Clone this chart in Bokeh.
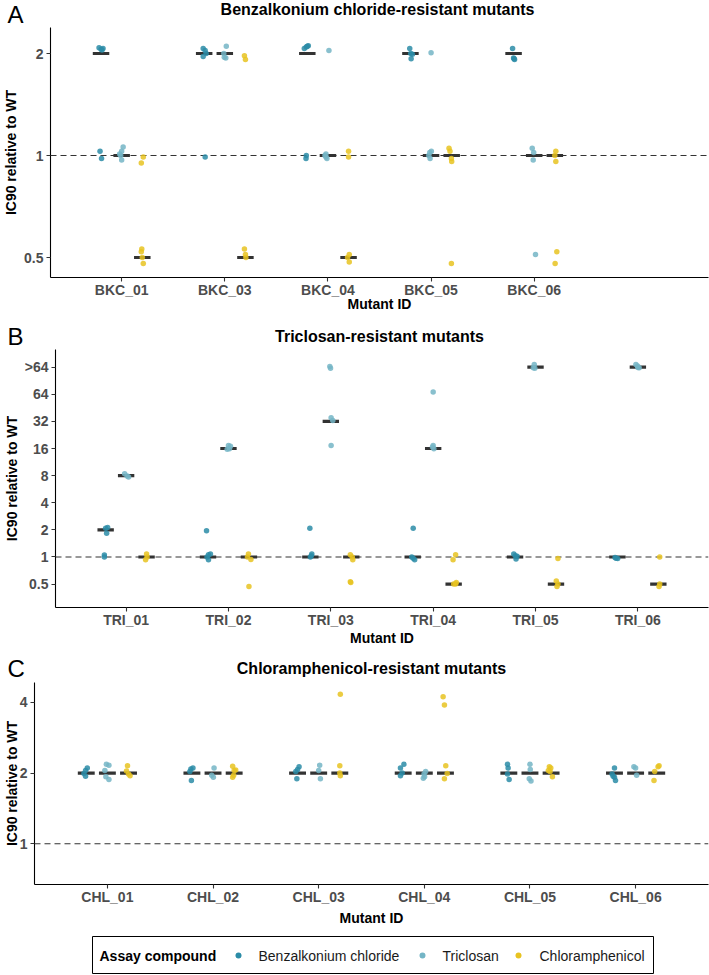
from bokeh.plotting import figure
from bokeh.models import Range1d, FixedTicker, Span, PrintfTickFormatter
from bokeh.layouts import column
from bokeh.embed import file_html
from bokeh.resources import INLINE
from bokeh.core.properties import value

FONT = "Liberation Sans"
compounds = ["Benzalkonium chloride", "Triclosan", "Chloramphenicol"]
colors = ["#2B8CA7", "#74B5C6", "#E8C321"]

# ---------------- Panel A: Benzalkonium chloride-resistant mutants -------------
a_mutants = ["BKC_01", "BKC_03", "BKC_04", "BKC_05", "BKC_06"]
a_bkc_vals = [[2.08, 2.06, 2.07, 2.05, 1.03, 0.98],
              [2.07, 2.04, 2.00, 1.96, 0.99],
              [2.07, 2.09, 2.11, 2.10, 1.00, 0.98],
              [2.07, 2.00, 1.99, 1.93],
              [2.07, 1.94, 1.92, 1.93]]
a_bkc_jit = [[-2, 0, 2, 1, -1, 0.5], [-1, 1, 2, -1, 1], [-3, -1, 1, 0, -1, -1.3],
             [-0.7, 0.3, 2, 0.7], [-1, 0, 1, 0.5]]
a_tcs_vals = [[1.06, 1.03, 1.00, 0.97, 1.01],
              [2.10, 2.00, 1.95, 1.94],
              [2.04, 1.01, 1.00, 0.98, 0.99],
              [2.01, 1.03, 1.02, 0.98, 1.00],
              [1.05, 1.02, 0.97, 0.51]]
a_tcs_jit = [[1.5, 0, -1, 0, -2], [1.5, -1, -0.5, 1], [1, -2, -3, -1, -2],
             [0, 0.3, -1.3, -1, -2.3], [-2, -0.5, -1, 1.3]]
a_chl_vals = [[0.99, 0.95, 0.53, 0.52, 0.48, 0.50],
              [1.97, 1.92, 0.53, 0.51, 0.50],
              [1.03, 0.99, 0.51, 0.50, 0.485],
              [1.05, 1.03, 0.98, 0.96, 0.48],
              [1.03, 0.96, 0.52, 0.48, 1.00]]
a_chl_jit = [[1, -1, -0.5, -1, 1, 0], [-1, 0, -1, 0, 0.5], [0, 0, 0.7, -1, 0.7],
             [-2.7, -1.7, -0.3, 0, -0.3], [1, 1, 2, 0.3, 0]]
a_bkc_median = [2, 2, 2, 2, 2]
a_tcs_median = [1, 2, 1, 1, 1]
a_chl_median = [0.5, 0.5, 0.5, 1, 1]
a_yticks = [0.5, 1, 2]
a_ylabels = ["0.5", "1", "2"]

# ---------------- Panel B: Triclosan-resistant mutants -------------------------
b_mutants = ["TRI_01", "TRI_02", "TRI_03", "TRI_04", "TRI_05", "TRI_06"]
b_bkc_vals = [[2.09, 2.12, 1.84, 1.05, 1.00],
              [1.95, 1.06, 1.08, 0.93, 1.00],
              [2.09, 1.08, 1.00, 1.03],
              [2.09, 0.97, 0.93, 1.00],
              [1.08, 1.03, 0.95, 1.02],
              [0.97, 0.96, 0.99]]
b_bkc_jit = [[0, 2, 1, -1.3, -1.3], [-1.5, 0.5, 2.5, 0.5, -1], [-0.5, 1.5, 0, 1],
             [0.5, 0.5, 2, -1], [-1.3, 0.3, 1, 2], [-1.4, 0.3, -2.4]]
b_tcs_vals = [[8.4, 7.9, 7.7],
              [17.3, 17.0, 15.7, 15.9],
              [130, 124, 35, 32.7, 17.3],
              [68, 17.3, 15.9, 16.6],
              [137, 124, 126],
              [137, 132, 126, 127]]
b_tcs_jit = [[-1.5, 1, 2.5], [0, 2, -1.3, 1], [-1, -0.3, 0.3, 2, 0.3],
             [0, 0, 0.7, -0.7], [-1.3, -0.7, -2.3], [-2, -0.3, 1.3, 0]]
b_chl_vals = [[1.08, 0.93, 1.00],
              [1.08, 0.94, 1.00, 0.47],
              [1.06, 0.93, 1.00, 0.53, 0.52],
              [1.06, 0.93, 0.52, 0.50, 0.50],
              [0.96, 0.54, 0.50, 0.47],
              [1.00, 0.47, 0.50]]
b_chl_jit = [[0, -1, 0.5], [-0.5, 2, -1.5, 0], [-1, 1.5, 1, -1, -0.5],
             [2, -0.6, 2.7, 2, 0], [2, 0.3, 2, 1], [1.4, 0.7, 1.4]]
b_bkc_median = [2, 1, 1, 1, 1, 1]
b_tcs_median = [8, 16, 32, 16, 128, 128]
b_chl_median = [1, 1, 1, 0.5, 0.5, 0.5]
b_yticks = [0.5, 1, 2, 4, 8, 16, 32, 64, 128]
b_ylabels = ["0.5", "1", "2", "4", "8", "16", "32", "64", ">64"]

# ---------------- Panel C: Chloramphenicol-resistant mutants -------------------
c_mutants = ["CHL_01", "CHL_02", "CHL_03", "CHL_04", "CHL_05", "CHL_06"]
c_bkc_vals = [[2.10, 2.05, 1.99, 1.94],
              [2.08, 2.10, 2.03, 1.86],
              [2.13, 2.07, 2.03, 1.89],
              [2.18, 2.10, 2.00, 1.95],
              [2.18, 2.10, 1.98, 1.88],
              [2.10, 1.98, 1.92, 1.86, 1.94]]
c_bkc_jit = [[1, -0.7, -2.3, -0.7], [-1, 1, -2, -0.5], [1.5, 0, -1.7, -0.7],
             [0.7, -2.7, -1, -2.7], [-1.3, -0.7, -1.3, 0.3], [0, -2.3, 0, 1, -1.3]]
c_tcs_vals = [[2.18, 2.16, 2.05, 1.93, 1.88],
              [2.10, 1.96, 1.92],
              [2.16, 2.05, 1.89],
              [2.03, 1.98, 1.90, 1.93],
              [2.18, 2.07, 1.89, 1.85],
              [2.13, 2.10, 1.96]]
c_tcs_jit = [[-1, 1.5, -2.5, -1.5, 1.5], [1, -1.3, 0.3], [1, 0, 1.7],
             [1.3, -0.3, -1, 0.3], [0, 0.3, -0.7, 1], [-1.7, 0, 1]]
c_chl_vals = [[2.15, 2.04, 1.98, 1.95],
              [2.14, 2.05, 2.06, 1.92, 1.96],
              [4.33, 2.15, 1.95, 2.00],
              [4.23, 3.90, 2.15, 1.89, 1.99],
              [2.13, 2.10, 2.05, 2.03, 1.93],
              [2.13, 2.15, 2.03, 1.86]]
c_chl_jit = [[-1, -2, 0, 1.5], [-1.5, 0, 1.5, -1.5, -0.5], [0.5, 0, 0.5, 0],
             [-2.3, -1, 0.3, -1, 1.7], [-1.7, -0.3, -2.7, -1, 1.3], [1.3, 2.3, -2, -2.7]]
c_bkc_median = [2, 2, 2, 2, 2, 2]
c_tcs_median = [2, 2, 2, 2, 2, 2]
c_chl_median = [2, 2, 2, 2, 2, 2]
c_yticks = [1, 2, 4]
c_ylabels = ["1", "2", "4"]

DODGE = [-0.2, 0.0, 0.2]
HALF = 0.08
STEP_PX = 104.0
W = 709


def no_align(p):
    if "frame_align" in p.properties():
        p.frame_align = False


def make_header(letter, title, height, letter_y, title_x, title_y):
    h = figure(width=W, height=height, output_backend="svg", toolbar_location=None,
               x_range=Range1d(0, W), y_range=Range1d(height, 0), min_border=0,
               x_axis_location=None, y_axis_location=None)
    no_align(h)
    h.xgrid.visible = False
    h.ygrid.visible = False
    h.outline_line_color = None
    h.text(x=[7], y=[letter_y], text=[letter], text_font=value(FONT),
           text_font_size="24px", text_baseline="middle", text_color="black")
    h.text(x=[title_x], y=[title_y], text=[title], text_font=value(FONT),
           text_font_size="16px", text_font_style="bold", text_align="center",
           text_baseline="middle", text_color="black")
    return h


def make_panel(mutants, vals, jits, medians, yticks, ylabels, ylo, yhi, height,
               bottom, xlab_standoff, ylab_standoff):
    p = figure(width=W, height=height, output_backend="svg", toolbar_location=None,
               y_axis_type="log", x_range=Range1d(0.31, 6.69),
               y_range=Range1d(2 ** ylo, 2 ** yhi),
               min_border_right=1, min_border_top=0, min_border_left=0,
               min_border_bottom=bottom)
    no_align(p)
    p.xgrid.visible = False
    p.ygrid.visible = False
    p.outline_line_color = None

    p.add_layout(Span(location=1, dimension="width", line_color="#333333",
                      line_width=1.2, line_dash="6 4", level="underlay"))

    for ci in range(3):
        xc = [i + 1 + DODGE[ci] for i in range(len(mutants))]
        p.segment(x0=[x - HALF for x in xc], x1=[x + HALF for x in xc],
                  y0=medians[ci], y1=medians[ci], line_width=3.2,
                  line_color="#333333", line_cap="butt")
    for ci in range(3):
        xs, ys = [], []
        for i, (vs, js) in enumerate(zip(vals[ci], jits[ci])):
            for v, j in zip(vs, js):
                xs.append(i + 1 + DODGE[ci] + j / STEP_PX)
                ys.append(v)
        p.scatter(xs, ys, size=5.5, fill_color=colors[ci], line_color=None,
                  fill_alpha=0.85)

    p.xaxis.ticker = FixedTicker(ticks=list(range(1, len(mutants) + 1)))
    p.xaxis.major_label_overrides = {i + 1: m for i, m in enumerate(mutants)}
    p.yaxis.ticker = FixedTicker(ticks=yticks)
    p.yaxis.formatter = PrintfTickFormatter(format="%g")
    p.yaxis.major_label_overrides = {t: l for t, l in zip(yticks, ylabels)}
    p.xaxis.axis_label = "Mutant ID"
    p.yaxis.axis_label = "IC90 relative to WT"
    for ax in (p.xaxis[0], p.yaxis[0]):
        ax.axis_line_color = "black"
        ax.axis_line_width = 1.1
        ax.major_tick_line_color = "#333333"
        ax.major_tick_line_width = 1.1
        ax.major_tick_in = 0
        ax.major_tick_out = 4
        ax.minor_tick_line_color = None
        ax.major_label_text_font = FONT
        ax.major_label_text_font_size = "14px"
        ax.major_label_text_font_style = "bold"
        ax.major_label_text_color = "#4D4D4D"
        ax.axis_label_text_font = FONT
        ax.axis_label_text_font_size = "14px"
        ax.axis_label_text_font_style = "bold"
        ax.axis_label_text_color = "black"
    p.xaxis.major_label_standoff = 0
    p.xaxis.axis_label_standoff = xlab_standoff
    p.yaxis.major_label_standoff = 3
    p.yaxis.axis_label_standoff = ylab_standoff
    p.yaxis.major_label_orientation = "horizontal"
    return p


hA = make_header("A", "Benzalkonium chloride-resistant mutants", 27, 13.5, 377, 9)
pA = make_panel(a_mutants, [a_bkc_vals, a_tcs_vals, a_chl_vals],
                [a_bkc_jit, a_tcs_jit, a_chl_jit],
                [a_bkc_median, a_tcs_median, a_chl_median],
                a_yticks, a_ylabels, -1.196, 1.255, 289, 39, -5, 2)
hB = make_header("B", "Triclosan-resistant mutants", 33, 19.5, 379, 20)
pB = make_panel(b_mutants, [b_bkc_vals, b_tcs_vals, b_chl_vals],
                [b_bkc_jit, b_tcs_jit, b_chl_jit],
                [b_bkc_median, b_tcs_median, b_chl_median],
                b_yticks, b_ylabels, -1.862, 7.65, 299, 40, -1, 2)
hC = make_header("C", "Chloramphenicol-resistant mutants", 34, 19.5, 371, 19.5)
pC = make_panel(c_mutants, [c_bkc_vals, c_tcs_vals, c_chl_vals],
                [c_bkc_jit, c_tcs_jit, c_chl_jit],
                [c_bkc_median, c_tcs_median, c_chl_median],
                c_yticks, c_ylabels, -0.577, 2.282, 246, 43, 2, -3)

# ---------------- Legend --------------------------------------------------------
lg = figure(width=W, height=47, output_backend="svg", toolbar_location=None,
            x_range=Range1d(0, W), y_range=Range1d(47, 0),
            min_border=0, x_axis_location=None, y_axis_location=None)
no_align(lg)
lg.xgrid.visible = False
lg.ygrid.visible = False
lg.outline_line_color = None
lg.quad(left=[92], right=[653], top=[8], bottom=[45], fill_color=None,
        line_color="black", line_width=1)
lg.text(x=[99], y=[27], text=["Assay compound"], text_font=value(FONT),
        text_font_size="14px", text_font_style="bold", text_baseline="middle",
        text_color="black")
lg.scatter(x=[238, 422, 518], y=[27, 27, 27], size=6, fill_color=colors,
           line_color=None)
lg.text(x=[258, 442, 539], y=[27, 27, 27], text=compounds, text_font=value(FONT),
        text_font_size="14px", text_baseline="middle", text_color="#1a1a1a")

layout = column(hA, pA, hB, pB, hC, pC, lg, spacing=0)
open("out.html", "w").write(file_html(layout, INLINE))
